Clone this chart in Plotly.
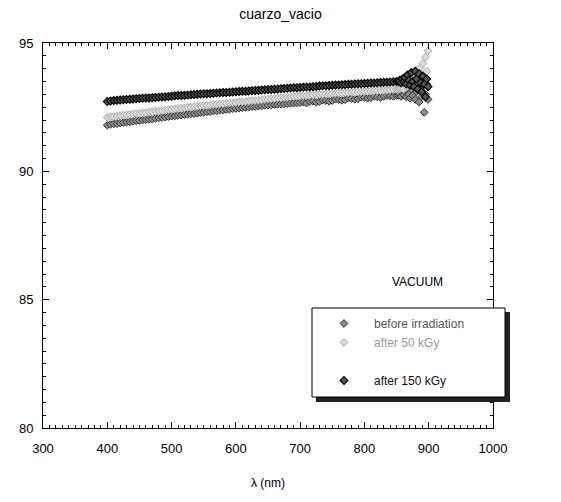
import plotly.graph_objects as go

# ---- data ----
wl_smooth = list(range(400, 855, 5))

before = [91.80, 91.83, 91.85, 91.86, 91.88, 91.90, 91.92, 91.93, 91.95, 91.97,
          91.98, 92.00, 92.01, 92.03, 92.04, 92.06, 92.08, 92.10, 92.11, 92.13,
          92.15, 92.16, 92.18, 92.19, 92.21, 92.22, 92.24, 92.25, 92.27, 92.29,
          92.30, 92.32, 92.33, 92.35, 92.36, 92.38, 92.39, 92.41, 92.42, 92.44,
          92.45, 92.46, 92.48, 92.49, 92.50, 92.52, 92.53, 92.54, 92.55, 92.57,
          92.58, 92.59, 92.60, 92.61, 92.62, 92.63, 92.64, 92.65, 92.66, 92.67,
          92.68, 92.70, 92.66, 92.72, 92.73, 92.69, 92.72, 92.78, 92.76, 92.73,
          92.76, 92.81, 92.80, 92.77, 92.79, 92.85, 92.84, 92.81, 92.83, 92.89,
          92.88, 92.85, 92.87, 92.92, 92.90, 92.88, 92.93, 92.96, 92.94, 92.92,
          92.95]

after50 = [92.10, 92.12, 92.14, 92.15, 92.17, 92.19, 92.20, 92.22, 92.23, 92.25,
           92.26, 92.28, 92.29, 92.31, 92.32, 92.34, 92.35, 92.37, 92.39, 92.40,
           92.42, 92.43, 92.45, 92.46, 92.47, 92.49, 92.50, 92.52, 92.53, 92.55,
           92.56, 92.57, 92.58, 92.60, 92.61, 92.62, 92.63, 92.65, 92.66, 92.67,
           92.68, 92.70, 92.71, 92.72, 92.73, 92.75, 92.76, 92.77, 92.78, 92.80,
           92.81, 92.82, 92.83, 92.85, 92.86, 92.87, 92.88, 92.90, 92.91, 92.92,
           92.93, 92.94, 92.95, 92.96, 92.97, 92.98, 92.99, 93.00, 93.01, 93.02,
           93.03, 93.04, 93.05, 93.05, 93.06, 93.07, 93.08, 93.08, 93.09, 93.10,
           93.11, 93.11, 93.12, 93.13, 93.14, 93.14, 93.15, 93.16, 93.17, 93.18,
           93.19]

after150 = [92.72, 92.74, 92.76, 92.77, 92.78, 92.79, 92.80, 92.81, 92.82, 92.83,
            92.84, 92.85, 92.86, 92.86, 92.87, 92.88, 92.89, 92.90, 92.91, 92.92,
            92.93, 92.94, 92.95, 92.95, 92.96, 92.97, 92.98, 92.99, 93.00, 93.01,
            93.02, 93.02, 93.03, 93.04, 93.05, 93.06, 93.07, 93.07, 93.08, 93.09,
            93.10, 93.11, 93.12, 93.12, 93.13, 93.14, 93.15, 93.16, 93.17, 93.18,
            93.19, 93.19, 93.20, 93.21, 93.22, 93.23, 93.24, 93.25, 93.26, 93.26,
            93.27, 93.28, 93.29, 93.29, 93.30, 93.31, 93.32, 93.33, 93.33, 93.34,
            93.35, 93.36, 93.36, 93.37, 93.38, 93.39, 93.39, 93.40, 93.41, 93.41,
            93.42, 93.43, 93.44, 93.44, 93.45, 93.46, 93.47, 93.47, 93.48, 93.49,
            93.50]

wl_noisy = [853, 855, 857, 859, 861, 863, 865, 867, 869, 871, 873, 875,
            877, 879, 881, 883, 885, 887, 889, 891, 893, 895, 897, 899]
before_noisy = [92.96, 93.00, 92.92, 93.05, 92.98, 93.10, 92.90, 93.15, 93.00, 92.85, 93.20, 92.95,
                93.30, 92.80, 93.10, 93.35, 92.70, 93.20, 92.90, 93.50, 92.30, 93.00, 93.40, 92.80]
after50_noisy = [93.20, 93.22, 93.25, 93.30, 93.20, 93.40, 93.30, 93.50, 93.35, 93.60, 93.45, 93.70,
                 93.40, 93.80, 93.55, 93.95, 93.60, 94.05, 93.70, 94.20, 93.80, 94.45, 93.90, 94.70]
after150_noisy = [93.50, 93.55, 93.45, 93.60, 93.50, 93.65, 93.40, 93.75, 93.55, 93.35, 93.85, 93.50,
                  93.30, 93.90, 93.60, 93.20, 93.80, 93.45, 93.10, 93.70, 93.40, 92.90, 93.60, 93.30]

x_ticks = [300, 400, 500, 600, 700, 800, 900, 1000]
y_ticks = [80, 85, 90, 95]

series = [
    ("before irradiation", "#555555", before, before_noisy, "#8c8c8c", "#333333", 1.0),
    ("after 50 kGy", "#9a9a9a", after50, after50_noisy, "#dcdcdc", "#a8a8a8", 1.0),
    ("after 150 kGy", "#111111", after150, after150_noisy, "#555555", "#000000", 1.2),
]

fig = go.Figure()
for i, (name, tcol, ys, yn, fill, line, lw) in enumerate(series):
    fig.add_trace(go.Scatter(
        x=wl_smooth + wl_noisy, y=ys + yn, mode="markers",
        name='&nbsp;&nbsp;&nbsp;<span style="color:%s">%s</span>' % (tcol, name),
        legendgroup="a" if i < 2 else "b",
        marker=dict(symbol="diamond", size=6, color=fill, line=dict(color=line, width=lw)),
    ))

FONT = "Liberation Sans, Arial"

# plot area in pixels: left 43, right 493, top 43, bottom 428
def px(x):
    return (x - 43) / 450.0

def py(y):
    return (428 - y) / 385.0

shapes = [
    dict(type="rect", xref="paper", yref="paper", x0=px(316), x1=px(510), y0=py(402), y1=py(312),
         fillcolor="#222222", line=dict(width=0), layer="above"),
    dict(type="rect", xref="paper", yref="paper", x0=px(312), x1=px(505), y0=py(397), y1=py(308),
         fillcolor="white", line=dict(color="black", width=1), layer="above"),
]

axis_common = dict(
    showgrid=False, zeroline=False, showline=True, linecolor="black", linewidth=1,
    mirror="allticks", ticks="inside", ticklen=6, tickcolor="black", tickwidth=1,
    tickfont=dict(family=FONT, size=13, color="black"),
)

fig.update_layout(
    width=561, height=502,
    margin=dict(l=43, r=68, t=43, b=74),
    paper_bgcolor="white", plot_bgcolor="white",
    title=dict(text="cuarzo_vacio", x=px(268), xanchor="center", y=1 - 14 / 502, yanchor="middle",
               font=dict(family=FONT, size=14, color="black")),
    xaxis=dict(range=[300, 1000], tickvals=x_ticks, ticklabelstandoff=8,
               minor=dict(dtick=10, ticks="inside", ticklen=3, tickcolor="black", showgrid=False),
               title=dict(text="λ (nm)", font=dict(family=FONT, size=12, color="black"),
                          standoff=24),
               **axis_common),
    yaxis=dict(range=[80, 95], tickvals=y_ticks, ticklabelstandoff=6,
               minor=dict(dtick=0.5, ticks="inside", ticklen=3, tickcolor="black", showgrid=False),
               **axis_common),
    shapes=shapes,
    showlegend=True,
    legend=dict(x=px(324), y=py(309), xanchor="left", yanchor="top",
                bgcolor="rgba(0,0,0,0)", borderwidth=0,
                traceorder="grouped", tracegroupgap=19,
                font=dict(family=FONT, size=12, color="#333333"),
                itemsizing="trace"),
    annotations=[dict(text="VACUUM", xref="paper", yref="paper", x=px(417), y=py(282),
                      showarrow=False, xanchor="center", yanchor="middle",
                      font=dict(family=FONT, size=12, color="black"))],
)

fig.write_html("out.html")
